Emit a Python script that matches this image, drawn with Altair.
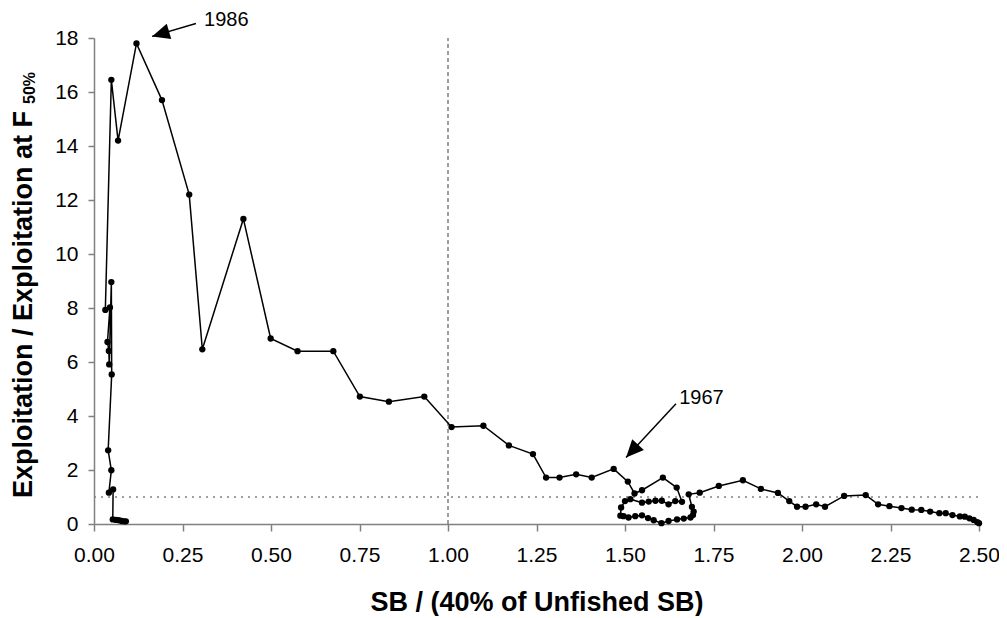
import altair as alt
import pandas as pd

# ---- data (chronological order) ----
sb_ratio = [
    2.500, 2.495, 2.485, 2.473, 2.460, 2.446, 2.425, 2.406, 2.388, 2.362,
    2.337, 2.310, 2.281, 2.247, 2.215, 2.180, 2.119, 2.065, 2.040, 2.010,
    1.986, 1.964, 1.932, 1.884, 1.833, 1.765, 1.711, 1.680,
    1.689, 1.694, 1.692, 1.685, 1.666, 1.647, 1.623, 1.603, 1.581, 1.565,
    1.548, 1.529, 1.510, 1.496, 1.487, 1.489, 1.500, 1.515, 1.548, 1.567,
    1.586, 1.604, 1.623, 1.642, 1.661,
    1.646, 1.607, 1.548, 1.527, 1.508, 1.468, 1.406, 1.362, 1.315, 1.277,
    1.240, 1.172, 1.100, 1.010, 0.933, 0.833, 0.751, 0.676, 0.575, 0.499,
    0.422, 0.306, 0.269, 0.192, 0.120, 0.068, 0.049, 0.032, 0.045, 0.038,
    0.042, 0.043, 0.049, 0.050, 0.040, 0.049, 0.042, 0.054, 0.053, 0.062,
    0.070, 0.078, 0.085, 0.090,
]
expl_ratio = [
    0.03, 0.07, 0.15, 0.21, 0.27, 0.28, 0.33, 0.40, 0.40, 0.46,
    0.52, 0.53, 0.59, 0.66, 0.73, 1.07, 1.04, 0.64, 0.73, 0.64,
    0.64, 0.85, 1.15, 1.30, 1.62, 1.41, 1.16, 1.10,
    0.63, 0.46, 0.33, 0.24, 0.20, 0.17, 0.11, 0.03, 0.14, 0.22,
    0.32, 0.29, 0.24, 0.29, 0.31, 0.61, 0.85, 0.92, 0.79, 0.83,
    0.86, 0.86, 0.73, 0.85, 0.82,
    1.35, 1.72, 1.25, 1.13, 1.57, 2.04, 1.72, 1.84, 1.72, 1.72,
    2.59, 2.91, 3.64, 3.59, 4.72, 4.53, 4.72, 6.40, 6.40, 6.87,
    11.30, 6.47, 12.20, 15.70, 17.80, 14.20, 16.45, 7.93, 8.02, 6.74,
    6.41, 5.91, 8.96, 5.54, 2.73, 1.99, 1.16, 1.28, 0.17, 0.15,
    0.14, 0.11, 0.10, 0.10,
]
x_ticks = [0.0, 0.25, 0.5, 0.75, 1.0, 1.25, 1.5, 1.75, 2.0, 2.25, 2.5]
y_ticks = [0, 2, 4, 6, 8, 10, 12, 14, 16, 18]

ann_labels = ["1986", "1967"]
ann_label_x = [0.311, 1.653]
ann_label_y = [18.68, 4.66]
ann_tail_x = [0.288, 1.644]
ann_tail_y = [18.54, 4.45]
ann_tip_x = [0.164, 1.503]
ann_tip_y = [18.06, 2.46]
ann_angle = [253.5, 222.7]

ref_x = [1.0]
ref_y = [1.0]

FONT = "Liberation Sans"

df = pd.DataFrame({"sb": sb_ratio, "ex": expl_ratio, "i": list(range(len(sb_ratio)))})
ann = pd.DataFrame({
    "label": ann_labels, "lx": ann_label_x, "ly": ann_label_y,
    "tx": ann_tail_x, "ty": ann_tail_y, "hx": ann_tip_x, "hy": ann_tip_y,
    "ang": ann_angle,
})
vref = pd.DataFrame({"x": ref_x, "y0": [0.0], "y1": [18.0]})
href = pd.DataFrame({"y": ref_y, "x0": [0.0], "x1": [2.5]})

xscale = alt.Scale(domain=[0, 2.5], nice=False, zero=False)
yscale = alt.Scale(domain=[0, 18], nice=False)

xaxis = alt.Axis(
    values=x_ticks, format=".2f", title="SB / (40% of Unfished SB)",
    titleFont=FONT, titleFontSize=27, titleFontWeight="bold", titleColor="black",
    titleY=86, titleBaseline="alphabetic",
    labelFont=FONT, labelFontSize=21, labelColor="black", labelPadding=13,
    tickColor="#808080", tickSize=7, tickWidth=1.5,
    domainColor="#808080", domainWidth=1.5, grid=False, labelFlush=False,
)
yaxis = alt.Axis(
    values=y_ticks, title=None,
    labelFont=FONT, labelFontSize=21, labelColor="black", labelPadding=10,
    tickColor="#808080", tickSize=6, tickWidth=1.5,
    domainColor="#808080", domainWidth=1.5, grid=False,
)

base = alt.Chart(df)
line = base.mark_line(color="black", strokeWidth=1.5).encode(
    x=alt.X("sb:Q", scale=xscale, axis=xaxis),
    y=alt.Y("ex:Q", scale=yscale, axis=yaxis),
    order=alt.Order("i:Q"),
)
pts = base.mark_circle(color="black", opacity=1, size=40).encode(
    x=alt.X("sb:Q", scale=xscale),
    y=alt.Y("ex:Q", scale=yscale),
)

vline = alt.Chart(vref).mark_rule(color="#808080", strokeWidth=1.5, strokeDash=[4, 3]).encode(
    x=alt.X("x:Q", scale=xscale), y=alt.Y("y0:Q", scale=yscale), y2="y1:Q"
)
hline = alt.Chart(href).mark_rule(color="#808080", strokeWidth=1.3, strokeDash=[2, 5]).encode(
    y=alt.Y("y:Q", scale=yscale), x=alt.X("x0:Q", scale=xscale), x2="x1:Q"
)

shaft = alt.Chart(ann).mark_rule(color="black", strokeWidth=1.5).encode(
    x=alt.X("tx:Q", scale=xscale), y=alt.Y("ty:Q", scale=yscale), x2="hx:Q", y2="hy:Q"
)
head = alt.Chart(ann).mark_point(
    shape="M0,0 L0.45,1 L-0.45,1 Z", filled=True, color="black", opacity=1, size=1250,
).encode(
    x=alt.X("hx:Q", scale=xscale), y=alt.Y("hy:Q", scale=yscale), angle=alt.Angle("ang:Q", scale=None)
)
labels = alt.Chart(ann).mark_text(
    font=FONT, fontSize=20, color="black", align="left", baseline="middle"
).encode(
    x=alt.X("lx:Q", scale=xscale), y=alt.Y("ly:Q", scale=yscale), text="label:N"
)

ytitle_main = alt.Chart(pd.DataFrame({"t": ["Exploitation / Exploitation at F"]})).mark_text(
    font=FONT, fontSize=27, fontWeight="bold", color="black", angle=270,
    align="left", baseline="alphabetic",
).encode(x=alt.value(-62), y=alt.value(460), text="t:N")
ytitle_sub = alt.Chart(pd.DataFrame({"t": ["50%"]})).mark_text(
    font=FONT, fontSize=16, fontWeight="bold", color="black", angle=270,
    align="left", baseline="alphabetic",
).encode(x=alt.value(-59), y=alt.value(460 - 387 - 7), text="t:N")

chart = alt.layer(
    hline, vline, line, pts, shaft, head, labels, ytitle_main, ytitle_sub
).properties(
    width=885, height=486,
    autosize=alt.AutoSizeParams(type="none"),
    padding={"left": 86, "top": 30, "right": 20, "bottom": 92},
).configure_view(stroke=None)

chart.save("out.html", embed_options={"renderer": "svg", "actions": False})
